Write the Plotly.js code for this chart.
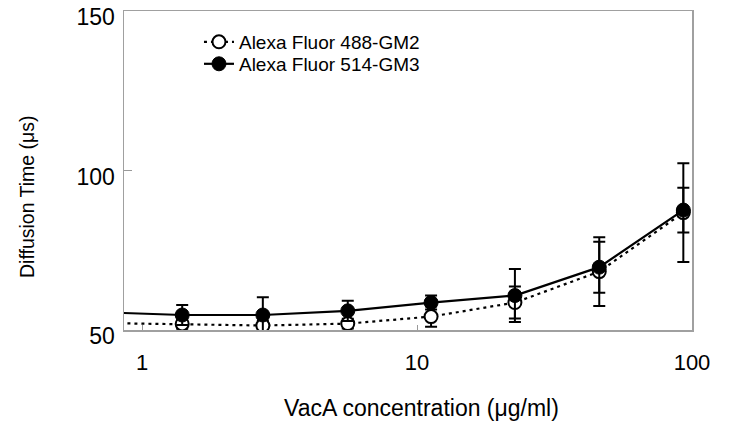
<!DOCTYPE html>
<html>
<head>
<meta charset="utf-8">
<script src="https://cdn.plot.ly/plotly-3.0.1.min.js"></script>
<style>
  html, body { margin: 0; padding: 0; background: #ffffff; }
  #chart { width: 732px; height: 423px; }
</style>
</head>
<body>
<div id="chart"></div>
<script>
// VacA concentration (µg/ml); the first entry lies left of the visible axis range
var concentration = [0.7, 1.4, 2.75, 5.6, 11.25, 22.7, 46, 93];

// Alexa Fluor 488-GM2 (open circles, dashed line)
var gm2Time  = [52.2, 51.9, 51.4, 52.0, 54.2, 58.6, 68.3, 86.8];
var gm2Error = [0, 1.5, 1.5, 1.5, 3.2, 5.0, 10.8, 15.5];

// Alexa Fluor 514-GM3 (filled circles, solid line)
var gm3Time  = [55.6, 54.7, 54.7, 56.0, 58.6, 60.8, 69.7, 87.6];
var gm3Error = [0, 3.1, 5.6, 3.2, 2.2, 8.3, 8.0, 7.0];

var seriesNames = ['Alexa Fluor 488-GM2', 'Alexa Fluor 514-GM3'];
var xTicks = [1, 10, 100];
var yTicks = [50, 100, 150];
var xTitle = 'VacA concentration (μg/ml)';
var yTitle = 'Diffusion Time (μs)';

var FONT = 'Arial, "Liberation Sans", Helvetica, sans-serif';

var traceGM2 = {
  x: concentration, y: gm2Time, name: seriesNames[0], legend: 'legend',
  type: 'scatter', mode: 'lines+markers',
  line: { color: '#000000', width: 2.2, dash: '3px,4px' },
  marker: { symbol: 'circle', size: 13, color: '#ffffff', line: { color: '#000000', width: 2 } },
  error_y: { type: 'data', array: gm2Error, visible: true, color: '#000000', thickness: 2, width: 6 }
};

var traceGM3 = {
  x: concentration, y: gm3Time, name: seriesNames[1], legend: 'legend2',
  type: 'scatter', mode: 'lines+markers',
  line: { color: '#000000', width: 2.2 },
  marker: { symbol: 'circle', size: 14, color: '#000000', line: { color: '#000000', width: 1 } },
  error_y: { type: 'data', array: gm3Error, visible: true, color: '#000000', thickness: 2, width: 6 }
};

function legendAt(yPaper) {
  return {
    x: 0.132, y: yPaper, xanchor: 'left', yanchor: 'middle',
    bgcolor: 'rgba(0,0,0,0)', borderwidth: 0,
    font: { family: FONT, size: 19, color: '#000000' }
  };
}

var layout = {
  width: 732, height: 423,
  margin: { l: 124, r: 40, t: 11, b: 93 },
  paper_bgcolor: '#ffffff', plot_bgcolor: '#ffffff',
  font: { family: FONT, color: '#000000', size: 18 },
  showlegend: true,
  legend: legendAt(0.903),
  legend2: legendAt(0.834),
  xaxis: {
    type: 'log',
    range: [Math.log10(0.86), 2],
    tickvals: xTicks, ticktext: xTicks.map(String),
    ticks: 'inside', ticklen: 5, tickwidth: 1, tickcolor: '#999999',
    showline: true, mirror: true, linecolor: '#a0a0a0', linewidth: 1.5,
    showgrid: false, zeroline: false,
    tickfont: { family: FONT, size: 22, color: '#000000' },
    ticklabelstandoff: 12
  },
  yaxis: {
    range: [50, 150],
    tickvals: yTicks, ticktext: yTicks.map(String),
    ticks: 'inside', ticklen: 8, tickwidth: 1, tickcolor: '#999999',
    showline: true, mirror: true, linecolor: '#a0a0a0', linewidth: 1.5,
    showgrid: false, zeroline: false,
    tickfont: { family: FONT, size: 23, color: '#000000' },
    ticklabelstandoff: 3,
    ticklabelshift: 6
  },
  annotations: [{
    text: xTitle, xref: 'paper', yref: 'paper',
    x: (421 - 124) / 568, y: -(408 - 330) / 319,
    xanchor: 'center', yanchor: 'middle', showarrow: false,
    font: { family: FONT, size: 23, color: '#000000' }
  }, {
    text: yTitle, xref: 'paper', yref: 'paper', textangle: -90,
    x: (27 - 124) / 568, y: (330 - 197) / 319,
    xanchor: 'center', yanchor: 'middle', showarrow: false,
    font: { family: FONT, size: 19.5, color: '#000000' }
  }]
};

Plotly.newPlot('chart', [traceGM2, traceGM3], layout, { staticPlot: true, displayModeBar: false });
</script>
</body>
</html>
